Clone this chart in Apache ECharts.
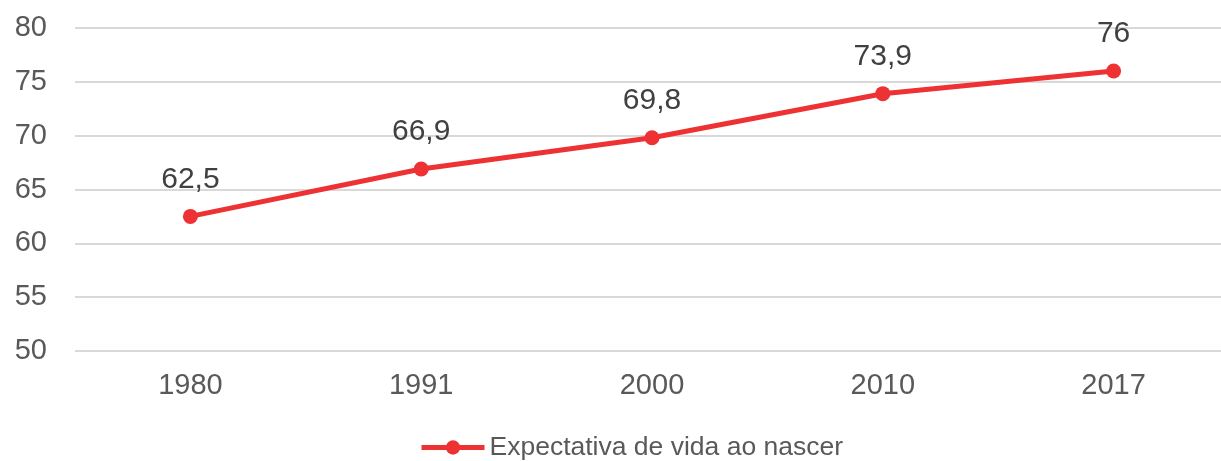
<!DOCTYPE html>
<html><head><meta charset="utf-8">
<script src="https://cdn.jsdelivr.net/npm/echarts@6/dist/echarts.min.js"></script>
<style>html,body{margin:0;padding:0;background:#fff}#c{width:1221px;height:461px}</style>
</head><body><div id="c"></div>
<script>
const categories = ['1980','1991','2000','2010','2017'];
const values = [62.5, 66.9, 69.8, 73.9, 76];
const yTicks = [50, 55, 60, 65, 70, 75, 80];
const seriesName = 'Expectativa de vida ao nascer';

const chart = echarts.init(document.getElementById('c'), null, {renderer:'canvas'});
const font = 'Liberation Sans, Arial, sans-serif';
chart.setOption({
  animation: false,
  textStyle: {fontFamily: font},
  grid: {left: 75, width: 1154, top: 28, bottom: 110, containLabel: false, outerBoundsMode: 'none'},
  xAxis: {
    type: 'category', data: categories, boundaryGap: true,
    axisLine: {show: false}, axisTick: {show: false},
    axisLabel: {color: '#595959', fontSize: 29, margin: 20, fontFamily: font}
  },
  yAxis: {
    type: 'value', min: yTicks[0], max: yTicks[yTicks.length-1], interval: 5,
    axisLine: {show: false}, axisTick: {show: false},
    splitLine: {lineStyle: {color: '#d9d9d9', width: 2}},
    axisLabel: {color: '#595959', fontSize: 29, margin: 28, fontFamily: font}
  },
  legend: {
    top: 429, left: 414, itemWidth: 63, itemHeight: 18, itemGap: 10,
    lineStyle: {width: 5},
    textStyle: {color: '#595959', fontSize: 26.5, fontFamily: font},
    data: [seriesName]
  },
  series: [{
    name: seriesName, type: 'line', data: values,
    symbol: 'circle', symbolSize: 15,
    lineStyle: {color: '#ee3233', width: 5},
    itemStyle: {color: '#ee3233'},
    label: {show: true, position: 'top', distance: 14.5, color: '#404040', fontSize: 30, fontFamily: font,
      formatter: p => String(p.value).replace('.', ',')}
  }]
});
</script></body></html>
